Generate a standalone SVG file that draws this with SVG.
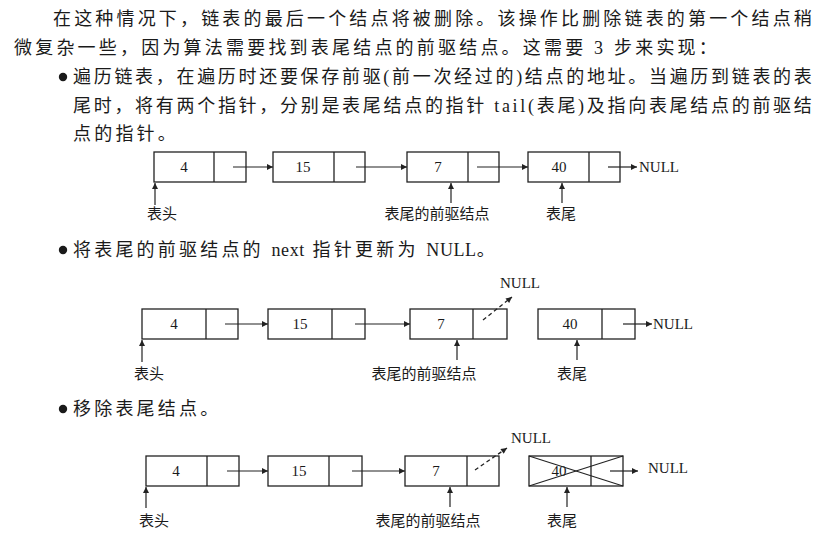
<svg xmlns="http://www.w3.org/2000/svg" width="817" height="537" viewBox="0 0 817 537">
<defs>
<style>
.body{font-family:"Liberation Serif","Noto Sans CJK SC",serif;font-size:18px;fill:#1a1a1a;letter-spacing:3.2px}
.lat{letter-spacing:0.6px}
.box{fill:#fff;stroke:#222;stroke-width:1.3}
.div{stroke:#222;stroke-width:1.3}
.num{font-family:"Liberation Serif","Noto Sans CJK SC",serif;font-size:15px;fill:#1a1a1a;text-anchor:middle}
.nul{font-family:"Liberation Serif",serif;font-size:15px;fill:#1a1a1a}
.lbl{font-family:"Liberation Serif","Noto Sans CJK SC",serif;font-size:15px;fill:#1a1a1a}
.arr{stroke:#222;stroke-width:1.2;fill:none;marker-end:url(#ah)}
.dash{stroke:#222;stroke-width:1.3;fill:none;stroke-dasharray:4 3;marker-end:url(#ah)}
.cross{stroke:#222;stroke-width:1.1}
</style>
<marker id="ah" viewBox="0 0 10 10" refX="10" refY="5" markerWidth="8" markerHeight="6" markerUnits="userSpaceOnUse" orient="auto">
<path d="M0,0 L10,5 L0,10 z" fill="#222"/>
</marker>
</defs>
<rect width="817" height="537" fill="#fff"/>

<g id="paragraph">
<text class="body" x="53" y="25" textLength="762" lengthAdjust="spacing">在这种情况下，链表的最后一个结点将被删除。该操作比删除链表的第一个结点稍</text>
<text class="body" x="14" y="54">微复杂一些，因为算法需要找到表尾结点的前驱结点。这需要 3 步来实现：</text>
<circle cx="63" cy="77" r="4.2" fill="#1a1a1a"/>
<text class="body" x="73" y="83" textLength="742" lengthAdjust="spacing">遍历链表，在遍历时还要保存前驱(前一次经过的)结点的地址。当遍历到链表的表</text>
<text class="body" x="73" y="112" textLength="742" lengthAdjust="spacing">尾时，将有两个指针，分别是表尾结点的指针 tail(表尾)及指向表尾结点的前驱结</text>
<text class="body" x="73" y="140">点的指针。</text>
<circle cx="63" cy="250" r="4.2" fill="#1a1a1a"/>
<text class="body" x="73" y="256">将表尾的前驱结点的 <tspan class="lat">next</tspan> 指针更新为 <tspan class="lat">NULL</tspan>。</text>
<circle cx="63" cy="409" r="4.2" fill="#1a1a1a"/>
<text class="body" x="73" y="415">移除表尾结点。</text>
</g>

<!-- Diagram 1 -->
<g id="d1-n1"><rect class="box" x="154" y="152" width="92" height="30"/><line class="div" x1="214" y1="152" x2="214" y2="182"/><text class="num" x="184" y="172">4</text></g>
<g id="d1-n2"><rect class="box" x="273" y="152" width="92" height="30"/><line class="div" x1="334" y1="152" x2="334" y2="182"/><text class="num" x="303" y="172">15</text></g>
<g id="d1-n3"><rect class="box" x="407" y="152" width="92" height="30"/><line class="div" x1="468" y1="152" x2="468" y2="182"/><text class="num" x="438" y="172">7</text></g>
<g id="d1-n4"><rect class="box" x="528" y="152" width="92" height="30"/><line class="div" x1="589" y1="152" x2="589" y2="182"/><text class="num" x="559" y="172">40</text></g>
<g id="d1-null"><text class="nul" x="639" y="172">NULL</text></g>
<g id="d1-labels">
<text class="lbl" x="147" y="219">表头</text>
<text class="lbl" x="437" y="219" text-anchor="middle">表尾的前驱结点</text>
<text class="lbl" x="561" y="219" text-anchor="middle">表尾</text>
</g>
<g id="d1-connectors">
<line class="arr" x1="233" y1="167" x2="273" y2="167"/>
<line class="arr" x1="356" y1="167" x2="407" y2="167"/>
<line class="arr" x1="477" y1="167" x2="528" y2="167"/>
<line class="arr" x1="608" y1="167" x2="637" y2="167"/>
<line class="arr" x1="155" y1="205" x2="155" y2="183"/>
<line class="arr" x1="451" y1="203" x2="451" y2="183"/>
<line class="arr" x1="562" y1="203" x2="562" y2="183"/>
</g>

<!-- Diagram 2 -->
<g id="d2-n1"><rect class="box" x="142" y="309" width="96" height="30"/><line class="div" x1="206" y1="309" x2="206" y2="339"/><text class="num" x="174" y="329">4</text></g>
<g id="d2-n2"><rect class="box" x="268" y="309" width="97" height="30"/><line class="div" x1="332" y1="309" x2="332" y2="339"/><text class="num" x="300" y="329">15</text></g>
<g id="d2-n3"><rect class="box" x="410" y="309" width="97" height="30"/><line class="div" x1="473" y1="309" x2="473" y2="339"/><text class="num" x="441" y="329">7</text></g>
<g id="d2-n4"><rect class="box" x="538" y="309" width="97" height="30"/><line class="div" x1="602" y1="309" x2="602" y2="339"/><text class="num" x="570" y="329">40</text></g>
<g id="d2-null1"><text class="nul" x="500" y="288">NULL</text></g>
<g id="d2-null2"><text class="nul" x="653" y="329">NULL</text></g>
<g id="d2-labels">
<text class="lbl" x="134" y="379">表头</text>
<text class="lbl" x="424" y="379" text-anchor="middle">表尾的前驱结点</text>
<text class="lbl" x="572" y="379" text-anchor="middle">表尾</text>
</g>
<g id="d2-connectors">
<line class="arr" x1="225" y1="324" x2="268" y2="324"/>
<line class="arr" x1="355" y1="324" x2="410" y2="324"/>
<line class="dash" x1="483" y1="320" x2="512" y2="297"/>
<line class="arr" x1="623" y1="324" x2="652" y2="324"/>
<line class="arr" x1="142" y1="362" x2="142" y2="340"/>
<line class="arr" x1="457" y1="360" x2="457" y2="340"/>
<line class="arr" x1="577" y1="360" x2="577" y2="340"/>
</g>

<!-- Diagram 3 -->
<g id="d3-n1"><rect class="box" x="146" y="456" width="93" height="30"/><line class="div" x1="207" y1="456" x2="207" y2="486"/><text class="num" x="176" y="476">4</text></g>
<g id="d3-n2"><rect class="box" x="268" y="456" width="94" height="30"/><line class="div" x1="329" y1="456" x2="329" y2="486"/><text class="num" x="299" y="476">15</text></g>
<g id="d3-n3"><rect class="box" x="405" y="456" width="94" height="30"/><line class="div" x1="467" y1="456" x2="467" y2="486"/><text class="num" x="436" y="476">7</text></g>
<g id="d3-n4"><rect class="box" x="529" y="456" width="94" height="30"/><line class="div" x1="591" y1="456" x2="591" y2="486"/><text class="num" x="559" y="476">40</text><line class="cross" x1="529" y1="456" x2="623" y2="486"/><line class="cross" x1="529" y1="486" x2="623" y2="456"/></g>
<g id="d3-null1"><text class="nul" x="511" y="443">NULL</text></g>
<g id="d3-null2"><text class="nul" x="648" y="473">NULL</text></g>
<g id="d3-labels">
<text class="lbl" x="139" y="526">表头</text>
<text class="lbl" x="428" y="526" text-anchor="middle">表尾的前驱结点</text>
<text class="lbl" x="562" y="526" text-anchor="middle">表尾</text>
</g>
<g id="d3-connectors">
<line class="arr" x1="227" y1="471" x2="268" y2="471"/>
<line class="arr" x1="352" y1="471" x2="405" y2="471"/>
<line class="dash" x1="475" y1="470" x2="507" y2="448"/>
<line class="arr" x1="610" y1="471" x2="638" y2="471"/>
<line class="arr" x1="146" y1="508" x2="146" y2="487"/>
<line class="arr" x1="450" y1="507" x2="450" y2="487"/>
<line class="arr" x1="567" y1="507" x2="567" y2="487"/>
</g>
</svg>
